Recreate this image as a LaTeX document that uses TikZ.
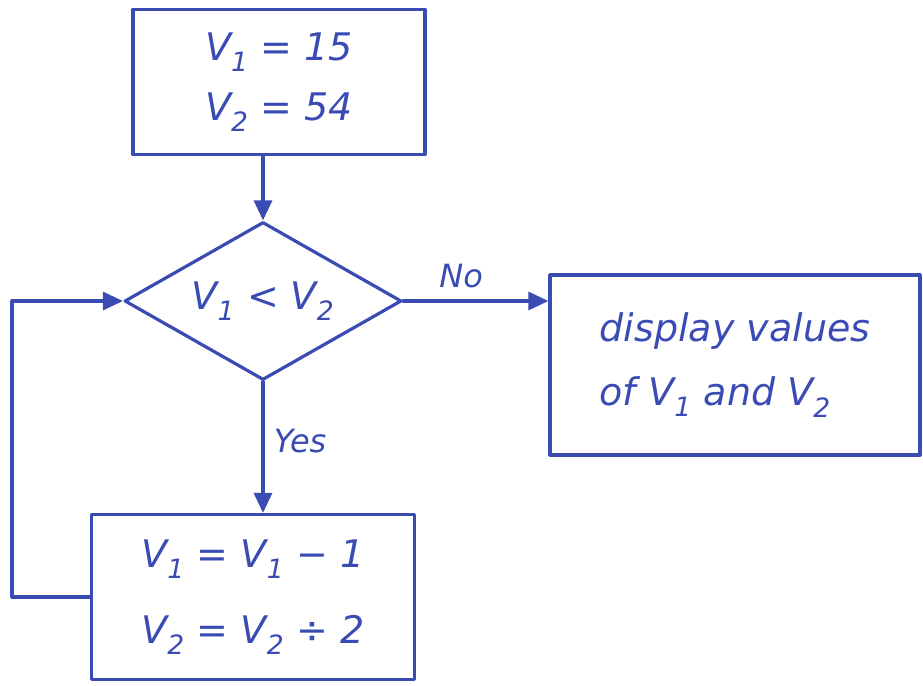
\documentclass[tikz,border=0pt]{standalone}
\usepackage{fontspec}
\setmainfont{DejaVu Sans}
\usetikzlibrary{shapes.geometric,arrows.meta}
\definecolor{ink}{HTML}{3A4BB4}
\newcommand{\Vs}[1]{V\textsubscript{#1}}
\begin{document}
\begin{tikzpicture}[x=1pt,y=-1pt,
  every node/.style={text=ink,font=\itshape\fontsize{38}{46}\selectfont},
  ln/.style={draw=ink,line width=3.2pt,line cap=round,line join=round},
  arr/.style={ln,-{Triangle[length=20pt,width=18pt]}},
  procbox/.style={ln,rectangle,inner sep=0pt,align=center},
  decbox/.style={ln,diamond,inner sep=0pt,aspect=1.75,minimum width=277pt,minimum height=158pt},
  lbl/.style={font=\itshape\fontsize{32}{38}\selectfont}]
\useasboundingbox (0,0) rectangle (923,685);
\node[procbox,minimum width=292pt,minimum height=145pt,font=\itshape\fontsize{38}{60}\selectfont] (init) at (279,82) {\Vs{1} = 15\\\Vs{2} = 54};
\node[decbox] (cond) at (263,301) {\Vs{1} < \Vs{2}};
\node[procbox,minimum width=370pt,minimum height=180pt,align=left,font=\itshape\fontsize{38}{64}\selectfont] (show) at (735,365) {display values\\of \Vs{1} and \Vs{2}};
\node[procbox,minimum width=323pt,minimum height=165pt,font=\itshape\fontsize{38}{76}\selectfont] (upd) at (253,597) {\Vs{1} = \Vs{1} − 1\\\Vs{2} = \Vs{2} ÷ 2};
\coordinate (lb) at (12,597);
\coordinate (lt) at (12,301);
\draw[arr] (cond.north |- init.south) -- (cond.north);
\draw[arr] (cond.east) -- node[lbl,above=8pt,pos=0.4] (no) {No} (cond.east -| show.west);
\draw[arr] (cond.south) -- node[lbl,right=6pt,pos=0.45] (yes) {Yes} (cond.south |- upd.north);
\draw[arr] (upd.west) -- (lb) -- (lt) -- (cond.west);
\end{tikzpicture}
\end{document}
